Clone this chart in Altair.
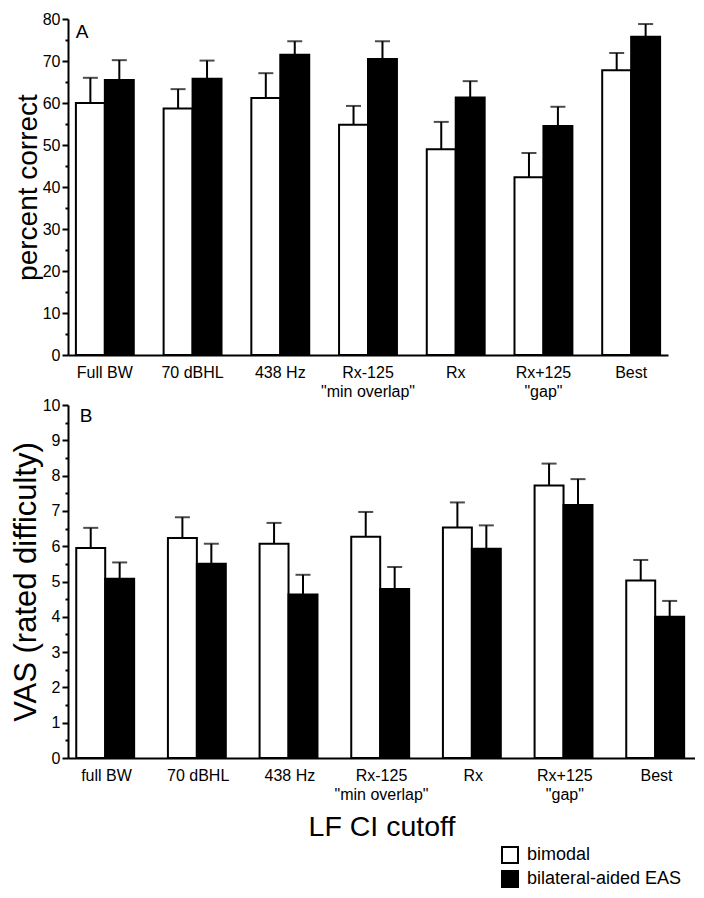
import altair as alt
import pandas as pd

categories_a = ["Full BW", "70 dBHL", "438 Hz", 'Rx-125|"min overlap"', "Rx", 'Rx+125|"gap"', "Best"]
categories_b = ["full BW", "70 dBHL", "438 Hz", 'Rx-125|"min overlap"', "Rx", 'Rx+125|"gap"', "Best"]
series = ["bimodal", "bilateral-aided EAS"]

# Panel A: percent correct (mean, upper error)
a_bimodal = [60.0, 58.7, 61.2, 54.8, 49.0, 42.3, 67.8]
a_bimodal_err = [6.0, 4.6, 5.9, 4.5, 6.5, 5.8, 4.1]
a_eas = [65.5, 65.8, 71.5, 70.5, 61.3, 54.5, 75.8]
a_eas_err = [4.7, 4.3, 3.2, 4.2, 3.9, 4.6, 3.0]

# Panel B: VAS rated difficulty
b_bimodal = [5.95, 6.23, 6.07, 6.27, 6.53, 7.72, 5.03]
b_bimodal_err = [0.57, 0.59, 0.59, 0.70, 0.71, 0.62, 0.58]
b_eas = [5.08, 5.50, 4.63, 4.79, 5.93, 7.17, 4.00]
b_eas_err = [0.46, 0.57, 0.56, 0.62, 0.66, 0.73, 0.45]

a_major = list(range(0, 81, 10))
a_minor = list(range(5, 80, 10))
b_major = list(range(0, 11))
b_minor = [i + 0.5 for i in range(0, 10)]

FONT = "Liberation Sans"


def make_df(cats, bim, bim_e, eas, eas_e):
    rows = []
    for c, m, e in zip(cats, bim, bim_e):
        rows.append({"cat": c, "series": series[0], "mean": m, "upper": m + e})
    for c, m, e in zip(cats, eas, eas_e):
        rows.append({"cat": c, "series": series[1], "mean": m, "upper": m + e})
    return pd.DataFrame(rows)


def panel(df, cats, ymax, major, minor, y_title, y_title_size, x_title, letter,
          width, height, legend):
    x_enc = alt.X(
        "cat:N", sort=cats,
        scale=alt.Scale(paddingInner=0.34, paddingOuter=0.09),
        axis=alt.Axis(
            labelExpr="split(datum.label, '|')", ticks=False, labelAngle=0,
            labelPadding=9, labelLineHeight=19, labelFontSize=16,
            title=x_title, titleFontSize=28.5, titlePadding=10,
        ),
    )
    xo = alt.XOffset("series:N", sort=series,
                     scale=alt.Scale(domain=series, paddingInner=0, paddingOuter=0))
    yscale = alt.Scale(domain=[0, ymax], nice=False)
    y_enc = alt.Y(
        "mean:Q", scale=yscale,
        axis=alt.Axis(
            values=major, tickSize=6, labelOverlap=False,
            title=y_title, titleFontSize=y_title_size, titlePadding=0,
            labelFontSize=16, labelPadding=2, orient="left",
        ),
    )
    fill = alt.Fill(
        "series:N", sort=series,
        scale=alt.Scale(domain=series, range=["white", "black"]),
        legend=legend,
    )
    base = alt.Chart(df)
    bars = base.mark_bar(stroke="black", strokeWidth=2).encode(
        x=x_enc, xOffset=xo, y=y_enc, fill=fill)
    err = base.mark_rule(color="black", strokeWidth=2).encode(
        x=alt.X("cat:N", sort=cats), xOffset=xo,
        y=alt.Y("mean:Q", scale=yscale, axis=alt.Axis(
            values=minor, tickSize=3, labels=False, domain=False, title=None,
            orient="left")),
        y2="upper:Q")
    cap = base.mark_tick(color="black", thickness=2, size=15, orient="horizontal").encode(
        x=alt.X("cat:N", sort=cats), xOffset=xo,
        y=alt.Y("upper:Q", scale=yscale, axis=None))
    lab = alt.Chart(pd.DataFrame({"t": [letter[0]]})).mark_text(
        fontSize=19, font=FONT, color="black", align="center", baseline="middle"
    ).encode(text="t:N", x=alt.value(letter[1]), y=alt.value(letter[2]))
    return alt.layer(bars, err, cap, lab).resolve_axis(y="independent").properties(
        width=width, height=height)


df_a = make_df(categories_a, a_bimodal, a_bimodal_err, a_eas, a_eas_err)
df_b = make_df(categories_b, b_bimodal, b_bimodal_err, b_eas, b_eas_err)

top = panel(df_a, categories_a, 80, a_major, a_minor, "percent correct", 28, None,
            ("A", 14, 12.5), 600, 336, None)
bottom = panel(df_b, categories_b, 10, b_major, b_minor, "VAS (rated difficulty)", 31,
               "LF CI cutoff", ("B", 18, 11), 627, 353,
               alt.Legend(orient="none", legendX=433, legendY=441, title=None,
                          symbolType="square", symbolSize=256,
                          symbolStrokeColor="black", symbolStrokeWidth=2,
                          labelFontSize=18, labelOffset=8, rowPadding=0,
                          padding=0, labelColor="black"))

chart = alt.vconcat(top, bottom, spacing=50, bounds="flush").resolve_scale(
    fill="independent").resolve_legend(fill="independent").properties(
    padding={"left": 2, "top": 3, "right": 0, "bottom": 3}
).configure(font=FONT).configure_view(stroke=None).configure_axis(
    labelColor="black", titleColor="black", domainColor="black", domainWidth=2,
    tickColor="black", tickWidth=2, titleFontWeight="normal", labelFont=FONT,
    titleFont=FONT, grid=False,
)

chart.save("out.html", embed_options={"renderer": "svg", "actions": False})
